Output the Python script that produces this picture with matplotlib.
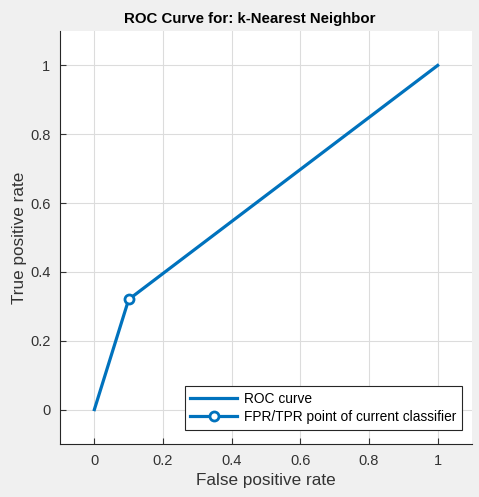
import matplotlib
matplotlib.use("Agg")
import matplotlib.pyplot as plt

plt.rcParams["font.family"] = ["Liberation Sans", "DejaVu Sans"]

fpr = [0.0, 0.1, 1.0]
tpr = [0.0, 0.32, 1.0]
point_fpr = [0.1]
point_tpr = [0.32]
ticks = [0, 0.2, 0.4, 0.6, 0.8, 1]
tick_labels = ["0", "0.2", "0.4", "0.6", "0.8", "1"]

BLUE = "#0072BD"
TXT = "#333333"

fig = plt.figure(figsize=(4.79, 4.97), dpi=100, facecolor="#f0f0f0")
ax = fig.add_axes([0.1253, 0.1066, 0.8601, 0.8310])
ax.set_facecolor("white")

ax.plot(fpr, tpr, color=BLUE, lw=2.3, label="ROC curve")
ax.plot(point_fpr, point_tpr, color=BLUE, lw=2.3, marker="o", ms=6.5,
        mfc="white", mec=BLUE, mew=2, label="FPR/TPR point of current classifier")

ax.set_xlim(-0.1, 1.1)
ax.set_ylim(-0.1, 1.1)
ax.set_xticks(ticks)
ax.set_xticklabels(tick_labels)
ax.set_yticks(ticks)
ax.set_yticklabels(tick_labels)
ax.tick_params(direction="in", length=4, colors=TXT, labelsize=10.5, pad=7)
ax.grid(True, color="#dcdcdc", lw=0.8)
ax.set_axisbelow(True)
for side in ["top", "right"]:
    ax.spines[side].set_visible(False)
for side in ["left", "bottom"]:
    ax.spines[side].set_color("#262626")
    ax.spines[side].set_linewidth(0.8)

ax.set_xlabel("False positive rate", fontsize=12.3, color=TXT, labelpad=4)
ax.set_ylabel("True positive rate", fontsize=12.3, color=TXT, labelpad=2)
ax.set_title("ROC Curve for: k-Nearest Neighbor", fontsize=10.8, fontweight="bold",
             color="black", pad=6, x=0.46)

leg = ax.legend(loc="lower right", bbox_to_anchor=(0.975, 0.035),
                fontsize=9.9, frameon=True, fancybox=False,
                framealpha=1, edgecolor="#262626", handlelength=3.4,
                handletextpad=0.5, borderaxespad=0.0, labelspacing=0.3,
                borderpad=0.4)
leg.get_frame().set_linewidth(0.8)

fig.savefig("out.png", dpi=100, facecolor=fig.get_facecolor())
